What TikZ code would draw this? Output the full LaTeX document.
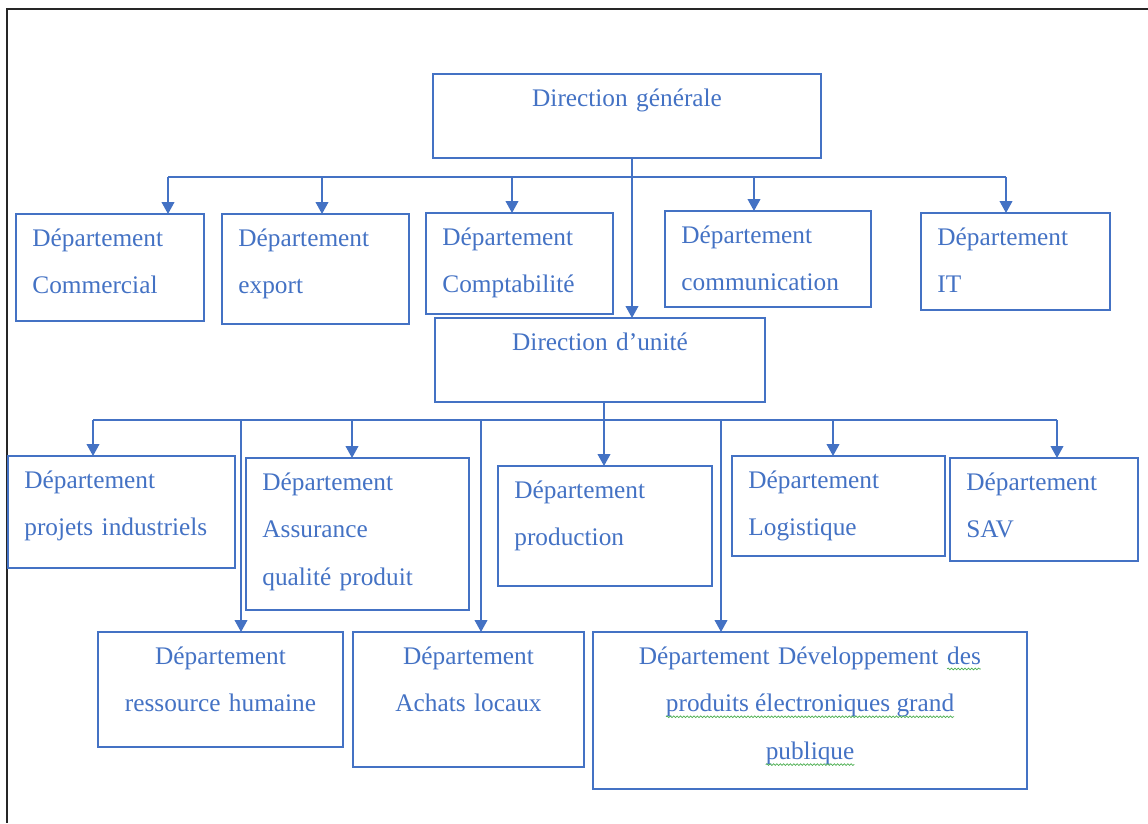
\documentclass[tikz,border=0pt]{standalone}
\usepackage{fontspec}
\setmainfont{Liberation Serif}
\usetikzlibrary{arrows.meta,decorations.pathmorphing}
\definecolor{chartblue}{HTML}{4472C4}
\definecolor{spellgreen}{HTML}{4CAF50}
\newcommand{\spellwave}[1]{\tikz[baseline=(w.base)]{\node[inner sep=0pt, outer sep=0pt] (w) {#1};
    \draw[spellgreen, line width=0.5pt, decorate, decoration={snake, amplitude=0.6pt, segment length=2.4pt}]
        ([yshift=-3.5pt]w.base west) -- ([yshift=-3.5pt]w.base east);}}

\begin{document}
\begin{tikzpicture}[
    x=0.025cm, y=-0.025cm,
    every node/.style={font=\fontsize{18}{34}\selectfont, text=chartblue},
    dept/.style={
        rectangle, draw=chartblue, line width=1.3pt,
        anchor=north west, outer sep=0pt,
        inner xsep=0.41cm, inner ysep=0pt,
        text height=0.8cm, align=left
    },
    head/.style={dept, align=center},
    link/.style={chartblue, line width=1pt},
    arrow/.style={link, -{Triangle[width=0.32cm, length=0.3cm]}}
]
\useasboundingbox (0,0) rectangle (1148,823);
% cadre
\draw[black!85, line width=1.5pt] (1148,9) -- (7,9) -- (7,823);

% direction generale
\node[head, text width=8.88cm, text depth=1.3cm] (dg) at (433,74) {Direction générale};

% departements rattaches
\node[dept, text width=3.88cm, text depth=1.875cm] (commercial) at (16,214) {Département\\Commercial};
\node[dept, text width=3.855cm, text depth=1.95cm] (export) at (222,214) {Département\\export};
\node[dept, text width=3.855cm, text depth=1.725cm] (compta) at (426,213) {Département\\Comptabilité};
\node[dept, text width=4.33cm, text depth=1.6cm] (comm) at (665,211) {Département\\communication};
\node[dept, text width=3.905cm, text depth=1.625cm] (it) at (921,213) {Département\\IT};

% direction d'unite
\node[head, text width=7.43cm, text depth=1.3cm] (du) at (435,318) {Direction d’unité};

\node[dept, text width=4.855cm, text depth=2.0cm] (projets) at (8,456) {Département\\projets industriels};
\node[dept, text width=4.755cm, text depth=3.0cm] (qualite) at (246,458) {Département\\Assurance\\qualité produit};
\node[dept, text width=4.53cm, text depth=2.2cm] (production) at (498,466) {Département\\production};
\node[dept, text width=4.505cm, text depth=1.7cm] (logistique) at (732,456) {Département\\Logistique};
\node[dept, text width=3.88cm, text depth=1.775cm] (sav) at (950,458) {Département\\SAV};
\node[head, text width=5.305cm, text depth=2.075cm] (rh) at (98,632) {Département\\ressource humaine};
\node[head, text width=4.955cm, text depth=2.575cm] (achats) at (353,632) {Département\\Achats locaux};
\node[head, text width=10.03cm, text depth=3.125cm] (dev) at (593,632) {Département Développement \spellwave{des}\\\spellwave{produits électroniques grand}\\\spellwave{publique}};

% liaisons niveau 1
\coordinate (busA) at (168,177);
\coordinate (busB) at (1006,177);
\draw[link] (busA) -- (busB);
\draw[arrow] (dg.south -| 632,0) -- (du.north -| 632,0);
\foreach \x/\n in {168/commercial, 322/export, 512/compta, 754/comm, 1006/it}
    \draw[arrow] (busA -| \x,0) -- (\n.north -| \x,0);

% liaisons niveau 2
\coordinate (busC) at (93,420);
\coordinate (busD) at (1057,420);
\draw[link] (busC) -- (busD);
\draw[arrow] (du.south -| 604,0) -- (production.north -| 604,0);
\foreach \x/\n in {93/projets, 241/rh, 352/qualite, 481/achats, 721/dev, 833/logistique, 1057/sav}
    \draw[arrow] (busC -| \x,0) -- (\n.north -| \x,0);
\end{tikzpicture}
\end{document}
